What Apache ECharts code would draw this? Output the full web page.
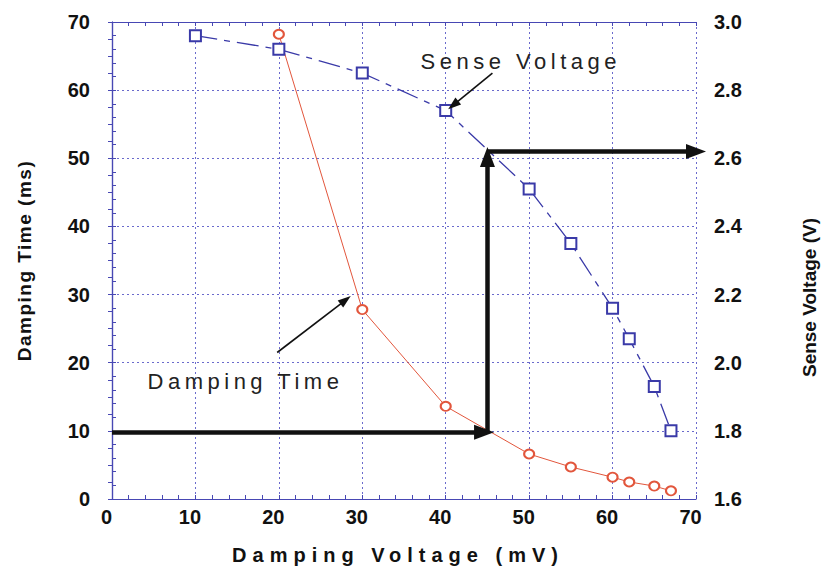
<!DOCTYPE html>
<html>
<head>
<meta charset="utf-8">
<script src="https://cdn.jsdelivr.net/npm/echarts@6/dist/echarts.min.js"></script>
<style>
  html, body { margin: 0; padding: 0; background: #fff; }
  #chart { width: 827px; height: 575px; }
</style>
</head>
<body>
<div id="chart"></div>
<script>
// Damping voltage (mV) at which each quantity was measured
const dampingVoltageT = [20, 30, 40, 50, 55, 60, 62, 65, 67];
const dampingTime = [68.2, 27.8, 13.6, 6.6, 4.7, 3.2, 2.5, 1.9, 1.2];          // ms

const dampingVoltageS = [10, 20, 30, 40, 50, 55, 60, 62, 65, 67];
const senseVoltage = [2.96, 2.92, 2.85, 2.74, 2.51, 2.35, 2.16, 2.07, 1.93, 1.80]; // V

// Operating-point construction: 10 ms damping time -> ~45 mV -> ~2.62 V sense
const targetTime = 9.8;
const operatingVoltage = 45;
const arrowReach = 44.6;        // where the horizontal arrow's head sits
const senseLevel = 2.62;
const senseLevelAsTime = 50.2;  // head of the vertical arrow, left-axis units

// Label arrows (left-axis data units): [from, to]
const timeArrow = [[19.8, 21.5], [28.0, 29.2]];
const senseArrow = [[45.6, 62.5], [40.9, 57.8]];
const timeLabelAt = [16.0, 17.3];
const senseLabelAt = [49.0, 64.2];

const xTicks = [0, 10, 20, 30, 40, 50, 60, 70];

const FONT = '"Liberation Sans", Arial, Helvetica, sans-serif';
const FRAME = '#4848b4';
const GRID = '#6a6acc';
const BLUE = '#3a3aa8';
const RED = '#e2563c';
const INK = '#111';

const chart = echarts.init(document.getElementById('chart'), null, { renderer: 'svg' });

function tickAxisBase() {
  return {
    axisLine: { show: true, lineStyle: { color: FRAME, width: 1.2 } },
    axisTick: { show: true, inside: true, length: 4, lineStyle: { color: FRAME } },
    minorTick: { show: true, splitNumber: 5, length: 4, lineStyle: { color: FRAME } },
  };
}

function arrow(from, to, width, size) {
  return [
    { coord: from, symbol: 'none' },
    { coord: to, symbol: 'triangle', symbolSize: size,
      lineStyle: { color: INK, width: width, type: 'solid' } }
  ];
}

const option = {
  animation: false,
  backgroundColor: '#fff',
  grid: { left: 112, right: 124, top: 22, bottom: 76 },
  xAxis: [
    Object.assign(tickAxisBase(), {
      type: 'value', min: 0, max: 70, interval: 10, position: 'bottom',
      name: 'Damping Voltage (mV)', nameLocation: 'middle', nameGap: 46,
      nameTextStyle: { fontFamily: FONT, fontSize: 20, fontWeight: 'bold', color: INK, padding: [0, 12, 0, 0] },
      axisLabel: { margin: 8, fontFamily: FONT, fontSize: 20, fontWeight: 'bold', color: INK,
        padding: [0, 11, 0, 0],
        formatter: v => xTicks.includes(v) ? String(v) : '' },
      splitLine: { show: true, lineStyle: { color: GRID, width: 1, type: [2, 3] } }
    }),
    Object.assign(tickAxisBase(), {
      type: 'value', min: 0, max: 70, interval: 10, position: 'top',
      axisLabel: { show: false }, splitLine: { show: false }
    })
  ],
  yAxis: [
    Object.assign(tickAxisBase(), {
      type: 'value', min: 0, max: 70, interval: 10, position: 'left',
      name: 'Damping Time (ms)', nameLocation: 'middle', nameGap: 78, nameRotate: 90,
      nameTextStyle: { fontFamily: FONT, fontSize: 19, fontWeight: 'bold', color: INK },
      axisLabel: { margin: 22, fontFamily: FONT, fontSize: 20, fontWeight: 'bold', color: INK },
      splitLine: { show: true, lineStyle: { color: GRID, width: 1, type: [2, 3] } }
    }),
    Object.assign(tickAxisBase(), {
      type: 'value', min: 1.6, max: 3.0, interval: 0.2, position: 'right',
      minorTick: { show: true, splitNumber: 4, length: 4, lineStyle: { color: FRAME } },
      name: 'Sense Voltage (V)', nameLocation: 'middle', nameGap: 104, nameRotate: 90,
      nameTextStyle: { fontFamily: FONT, fontSize: 19, fontWeight: 'bold', color: INK, padding: [0, 74, 0, 0] },
      axisLabel: { margin: 18, fontFamily: FONT, fontSize: 20, fontWeight: 'bold', color: INK,
        formatter: v => v.toFixed(1) },
      splitLine: { show: false }
    })
  ],
  series: [
    {
      name: 'Damping Time', type: 'line', xAxisIndex: 0, yAxisIndex: 0,
      data: dampingVoltageT.map((x, i) => [x, dampingTime[i]]),
      symbol: 'emptyCircle', symbolSize: [10, 9],
      lineStyle: { color: RED, width: 1 },
      itemStyle: { color: RED, borderColor: RED, borderWidth: 1 },
      z: 3,
      markLine: {
        silent: true, animation: false, label: { show: false }, precision: 4,
        data: [
          arrow([0, targetTime], [arrowReach, targetTime], 4.5, [15, 20]),
          arrow([operatingVoltage, targetTime], [operatingVoltage, senseLevelAsTime], 4.5, [15, 20]),
          arrow(timeArrow[0], timeArrow[1], 1.6, [9, 13]),
          arrow(senseArrow[0], senseArrow[1], 1.6, [9, 13])
        ]
      },
      markPoint: {
        silent: true, animation: false,
        symbol: 'circle', symbolSize: 1, itemStyle: { color: 'rgba(0,0,0,0)' },
        label: { show: true, position: 'inside', fontFamily: FONT, fontSize: 22, color: '#222' },
        data: [
          { coord: timeLabelAt, value: 'Damping Time', label: { formatter: 'Damping Time' } },
          { coord: senseLabelAt, value: 'Sense Voltage', label: { formatter: 'Sense Voltage' } }
        ]
      }
    },
    {
      name: 'Sense Voltage', type: 'line', xAxisIndex: 0, yAxisIndex: 1,
      data: dampingVoltageS.map((x, i) => [x, senseVoltage[i]]),
      symbol: 'emptyRect', symbolSize: 11,
      lineStyle: { color: BLUE, width: 1.3, type: [22, 7, 6, 7] },
      itemStyle: { color: BLUE, borderColor: BLUE, borderWidth: 1 },
      z: 3,
      markLine: {
        silent: true, animation: false, label: { show: false }, precision: 4,
        data: [
          arrow([operatingVoltage, senseLevel], [70, senseLevel], 4.5, [15, 20])
        ]
      }
    }
  ]
};

chart.setOption(option);

// Widen tracking on the spaced-out titles and callouts
const tracking = {
  'Damping Voltage (mV)': 6,
  'Damping Time (ms)': 1.5,
  'Sense Voltage': 4.5,
  'Damping Time': 4.5
};
function applyTracking() {
  chart.getDom().querySelectorAll('text').forEach(t => {
    const s = tracking[t.textContent];
    if (s) t.style.letterSpacing = s + 'px';
  });
}
applyTracking();
chart.on('finished', applyTracking);
setTimeout(applyTracking, 50);
</script>
</body>
</html>
